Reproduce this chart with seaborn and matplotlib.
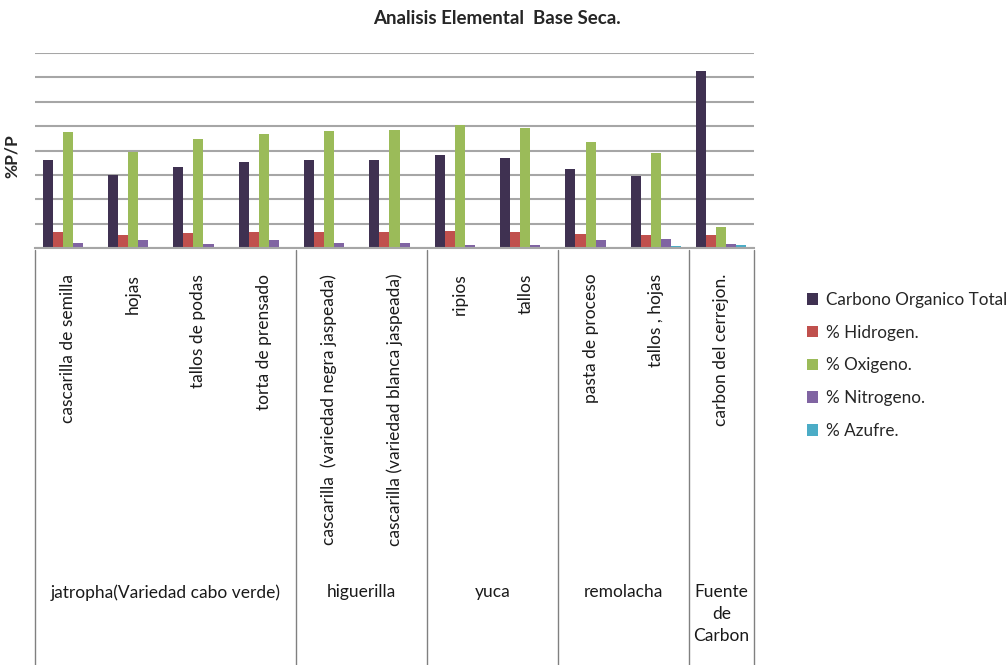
import matplotlib
matplotlib.use("Agg")
import matplotlib.pyplot as plt
import seaborn as sns
import pandas as pd

categories = ["cascarilla de semilla", "hojas", "tallos de podas", "torta de prensado",
              "cascarilla  (variedad negra jaspeada)", "cascarilla (variedad blanca jaspeada)",
              "ripios", "tallos", "pasta de proceso", "tallos , hojas", "carbon del cerrejon."]
groups = ["jatropha(Variedad cabo verde)", "higuerilla", "yuca", "remolacha", "Fuente\nde\nCarbon"]
group_sizes = [4, 2, 2, 2, 1]
series = ["Carbono Organico Total", "% Hidrogen.", "% Oxigeno.", "% Nitrogeno.", "% Azufre."]

carbono = [35.9, 29.8, 33.4, 35.2, 36.1, 36.2, 38.0, 37.0, 32.6, 29.5, 72.8]
hidrogeno = [6.4, 5.4, 6.1, 6.7, 6.4, 6.5, 6.8, 6.4, 5.9, 5.5, 5.5]
oxigeno = [47.5, 39.3, 44.7, 46.7, 48.1, 48.4, 50.3, 49.3, 43.3, 39.0, 8.6]
nitrogeno = [2.0, 3.4, 1.6, 3.3, 2.2, 2.0, 1.1, 1.1, 3.1, 3.5, 1.5]
azufre = [0.5, 0.5, 0.5, 0.5, 0.6, 0.6, 0.5, 0.5, 0.5, 0.7, 1.2]

colors = ["#3F3151", "#C0504D", "#9BBB59", "#8064A2", "#4BACC6"]

rows = []
for s, vals in zip(series, [carbono, hidrogeno, oxigeno, nitrogeno, azufre]):
    for c, v in zip(categories, vals):
        rows.append({"muestra": c, "serie": s, "valor": v})
df = pd.DataFrame(rows)

sns.set_style("white")
plt.rcParams["font.family"] = ["Lato", "DejaVu Sans"]

W, H = 1008, 665
fig = plt.figure(figsize=(W / 100, H / 100), dpi=100)
x0, x1 = 35, 754
ytop, ybase = 53, 248
ax = fig.add_axes([x0 / W, (H - ybase) / H, (x1 - x0) / W, (ybase - ytop) / H])

sns.barplot(data=df, x="muestra", y="valor", hue="serie", order=categories,
            hue_order=series, palette=colors, width=0.77, ax=ax, saturation=1,
            edgecolor="none")
ax.set_ylim(0, 80)
ax.set_xlim(-0.5, len(categories) - 0.5)
ax.set_yticks(range(0, 81, 10))
ax.set_yticklabels([])
ax.set_xticks([])
ax.set_xlabel("")
ax.set_ylabel("%P/P", fontsize=12.5, fontweight="bold")
ax.yaxis.set_label_coords(-15 / (x1 - x0), 0.47)
ax.grid(axis="y", color="#A6A6A6", linewidth=1.5)
ax.set_axisbelow(True)
for sp in ["top", "right", "left"]:
    ax.spines[sp].set_visible(False)
ax.spines["bottom"].set_color("#A6A6A6")
ax.spines["bottom"].set_linewidth(1.5)
ax.tick_params(left=False, bottom=False)

handles, labels = ax.get_legend_handles_labels()
ax.get_legend().remove()
fig.legend(handles, labels, loc="upper left", bbox_to_anchor=(800 / W, 1 - 285 / H),
           frameon=False, fontsize=12.3, handlelength=0.65, handleheight=0.65,
           handletextpad=0.45, labelspacing=0.98, borderaxespad=0)

# category table
tab = fig.add_axes([x0 / W, 0, (x1 - x0) / W, (H - ybase - 2) / H])
tab.set_xlim(-0.5, len(categories) - 0.5)
tab.set_ylim(0, 1)
tab.axis("off")
for i, c in enumerate(categories):
    tab.text(i, 0.943, c, rotation=90, ha="center", va="top", fontsize=12.5, color="#1A1A1A")
bounds = [-0.5]
for n in group_sizes:
    bounds.append(bounds[-1] + n)
for b in bounds:
    tab.plot([b, b], [0, 1], color="#808080", linewidth=1, clip_on=False)
for g, a, b in zip(groups, bounds[:-1], bounds[1:]):
    tab.text((a + b) / 2, (665 - 584) / 417, g, ha="center", va="top", fontsize=12.5,
             color="#1A1A1A", linespacing=1.45)

fig.text(497 / W, 1 - 18 / H, "Analisis Elemental  Base Seca.", ha="center", va="center",
         fontsize=13.5, fontweight="bold")

fig.savefig("out.png", dpi=100)
